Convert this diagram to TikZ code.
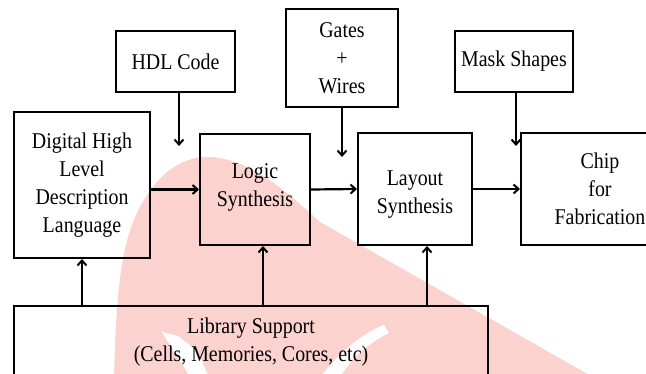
\documentclass[tikz,border=0pt]{standalone}
\usepackage{fontspec}
\setmainfont{Liberation Serif}[FakeStretch=0.885]
\usetikzlibrary{arrows.meta}
\definecolor{wmpink}{RGB}{251,210,205}
\newcommand{\shifttext}[2]{\raisebox{#1}[\height][\depth]{\begin{tabular}{@{}c@{}}#2\end{tabular}}}
\tikzset{
  box/.style={draw=black, line width=2pt, align=center, inner sep=0pt,
              font=\fontsize{22.5}{28}\selectfont},
  arr/.style={draw=black, line width=2.2pt,
              -{Straight Barb[length=5pt,width=9pt,line width=2pt]}}
}
\begin{document}
\begin{tikzpicture}[x=1pt, y=-1pt]
\useasboundingbox (0,0) rectangle (646,374);
\clip (0,0) rectangle (646,374);
\fill[white] (0,0) rectangle (646,374);

% pale background emblem
\fill[wmpink] (114,380) .. controls (116,300) and (120,250) .. (136,215)
  .. controls (155,175) and (180,157) .. (207,157)
  .. controls (250,157) and (290,195) .. (320,222) -- (598,380) -- cycle;
\fill[white] (162,332) -- (178,336) -- (198,352) -- (210,380) -- (192,380) -- cycle;
\fill[white] (318,380) .. controls (336,356) and (360,334) .. (384,325)
  -- (389,333) .. controls (368,343) and (350,360) .. (338,380) -- cycle;

% boxes
\node[box, minimum width=119pt, minimum height=61pt] (hdl) at (175.5,61.5) {HDL Code};
\node[box, minimum width=112pt, minimum height=98pt] (gates) at (342,58) {Gates\\+\\Wires};
\node[box, minimum width=118pt, minimum height=61pt] (mask) at (514,61.5) {Mask Shapes};
\node[box, minimum width=136pt, minimum height=146pt] (dhl) at (82,185)
  {Digital High\\Level\\Description\\Language};
\node[box, minimum width=110pt, minimum height=111pt] (logic) at (255,189.5)
  {\shifttext{3pt}{Logic\\Synthesis}};
\node[box, minimum width=114pt, minimum height=112pt] (layout) at (415,189)
  {\shifttext{-5pt}{Layout\\Synthesis}};
\node[box, minimum width=158pt, minimum height=112pt] (chip) at (600,189) {Chip\\for\\Fabrication};
\node[box, minimum width=474pt, minimum height=72pt] (lib) at (251,342)
  {Library Support\\(Cells, Memories, Cores, etc)};

% free ends of the inputs from above
\coordinate (hdlend) at (179,146);
\coordinate (gatesend) at (342,157);
\coordinate (maskend) at (516,146);

\draw[arr] (hdl.south -| hdlend) -- (hdlend);
\draw[arr] (gates.south) -- (gatesend);
\draw[arr] (mask.south -| maskend) -- (maskend);

% main flow
\draw[arr] (dhl.east |- logic.west) -- (logic.west);
\draw[arr] (logic.east) -- (layout.west);
\draw[arr] (layout.east) -- (chip.west);

% library support feeds
\draw[arr] (lib.north -| dhl.south) -- (dhl.south);
\draw[arr] ([xshift=8pt]logic.south |- lib.north) -- ([xshift=8pt]logic.south);
\draw[arr] ([xshift=12pt]layout.south |- lib.north) -- ([xshift=12pt]layout.south);
\end{tikzpicture}
\end{document}
